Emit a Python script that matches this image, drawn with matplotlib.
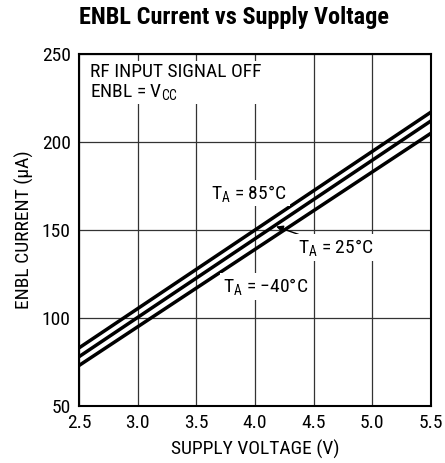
import matplotlib
matplotlib.use("Agg")
import matplotlib.pyplot as plt

# supply voltage (V) and ENBL current (uA)
voltage = [2.5, 5.5]
current_85c = [83, 217]
current_25c = [78, 212]
current_m40c = [73, 205]

x_ticks = [2.5, 3.0, 3.5, 4.0, 4.5, 5.0, 5.5]
y_ticks = [50, 100, 150, 200, 250]

font = ["Roboto Condensed", "DejaVu Sans"]
plt.rcParams["font.family"] = font
plt.rcParams["mathtext.fontset"] = "custom"
plt.rcParams["mathtext.rm"] = "Roboto Condensed"
plt.rcParams["mathtext.it"] = "Roboto Condensed"

fs = 14
fig = plt.figure(figsize=(4.45, 4.63), dpi=100)
ax = fig.add_axes([79 / 445, 57 / 463, 352 / 445, 352 / 463])

for y in (current_85c, current_25c, current_m40c):
    ax.plot(voltage, y, color="black", linewidth=2.5, solid_capstyle="butt", zorder=3)

ax.set_xlim(2.5, 5.5)
ax.set_ylim(50, 250)
ax.set_xticks(x_ticks)
ax.set_xticklabels([f"{v:.1f}" for v in x_ticks])
ax.set_yticks(y_ticks)
ax.grid(True, color="#333333", linewidth=0.9)
ax.tick_params(length=0, labelsize=fs, pad=6)
for s in ax.spines.values():
    s.set_linewidth(1.5)

ax.set_xlabel("SUPPLY VOLTAGE (V)", fontsize=fs)
ax.set_ylabel("ENBL CURRENT (\u03bcA)", fontsize=fs)
ax.xaxis.set_label_coords(0.5, -0.095)
ax.yaxis.set_label_coords(-0.128, 0.5)

box = dict(facecolor="white", edgecolor="none", pad=2)
ax.text(2.59, 245, "RF INPUT SIGNAL OFF\nENBL = V$_{CC}$", fontsize=fs,
        va="top", ha="left", linespacing=1.05, bbox=box, zorder=4)
ax.text(3.95, 171, "T$_{A}$ = 85\u00b0C", fontsize=fs, ha="center", va="center",
        bbox=box, zorder=4)
ax.text(4.09, 118, "T$_{A}$ = \u221240\u00b0C", fontsize=fs, ha="center", va="center",
        bbox=box, zorder=4)
ax.annotate("T$_{A}$ = 25\u00b0C", xy=(4.18, 152), xytext=(4.69, 140),
            fontsize=fs, ha="center", va="center", bbox=box, zorder=4,
            arrowprops=dict(arrowstyle="-|>", color="black", lw=1.0,
                            shrinkA=0, shrinkB=0, mutation_scale=10))

fig.text(0.526, 0.962, "ENBL Current vs Supply Voltage", fontsize=17.5,
         fontweight="bold", ha="center", va="center")

fig.savefig("out.png", dpi=100)
